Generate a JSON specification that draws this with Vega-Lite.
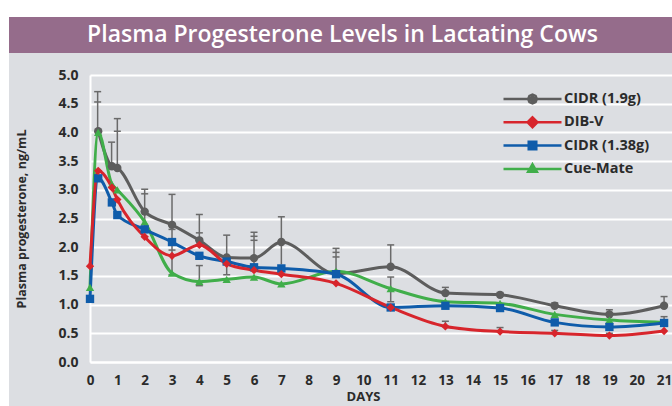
{
  "$schema": "https://vega.github.io/schema/vega-lite/v6.json",
  "background": "white",
  "padding": {"left": 9, "top": 17, "right": 0, "bottom": 0},
  "spacing": 0,
  "config": {"view": {"stroke": null}, "font": "Open Sans", "concat": {"spacing": 0}},
  "datasets": {
    "series": [
      {"s": "CIDR (1.9g)", "d": 0.3, "v": 4.02}, {"s": "CIDR (1.9g)", "d": 0.8, "v": 3.41}, {"s": "CIDR (1.9g)", "d": 1, "v": 3.38},
      {"s": "CIDR (1.9g)", "d": 2, "v": 2.62}, {"s": "CIDR (1.9g)", "d": 3, "v": 2.39}, {"s": "CIDR (1.9g)", "d": 4, "v": 2.12},
      {"s": "CIDR (1.9g)", "d": 5, "v": 1.82}, {"s": "CIDR (1.9g)", "d": 6, "v": 1.81}, {"s": "CIDR (1.9g)", "d": 7, "v": 2.09},
      {"s": "CIDR (1.9g)", "d": 9, "v": 1.54}, {"s": "CIDR (1.9g)", "d": 11, "v": 1.66}, {"s": "CIDR (1.9g)", "d": 13, "v": 1.2},
      {"s": "CIDR (1.9g)", "d": 15, "v": 1.17}, {"s": "CIDR (1.9g)", "d": 17, "v": 0.98}, {"s": "CIDR (1.9g)", "d": 19, "v": 0.83},
      {"s": "CIDR (1.9g)", "d": 21, "v": 0.98},
      {"s": "Cue-Mate", "d": 0, "v": 1.3}, {"s": "Cue-Mate", "d": 0.3, "v": 4.0}, {"s": "Cue-Mate", "d": 0.8, "v": 3.1},
      {"s": "Cue-Mate", "d": 1, "v": 3.0}, {"s": "Cue-Mate", "d": 2, "v": 2.44}, {"s": "Cue-Mate", "d": 3, "v": 1.55},
      {"s": "Cue-Mate", "d": 4, "v": 1.4}, {"s": "Cue-Mate", "d": 5, "v": 1.44}, {"s": "Cue-Mate", "d": 6, "v": 1.48},
      {"s": "Cue-Mate", "d": 7, "v": 1.36}, {"s": "Cue-Mate", "d": 9, "v": 1.58}, {"s": "Cue-Mate", "d": 11, "v": 1.28},
      {"s": "Cue-Mate", "d": 13, "v": 1.05}, {"s": "Cue-Mate", "d": 15, "v": 1.02}, {"s": "Cue-Mate", "d": 17, "v": 0.83},
      {"s": "Cue-Mate", "d": 19, "v": 0.73}, {"s": "Cue-Mate", "d": 21, "v": 0.69},
      {"s": "CIDR (1.38g)", "d": 0, "v": 1.1}, {"s": "CIDR (1.38g)", "d": 0.3, "v": 3.2}, {"s": "CIDR (1.38g)", "d": 0.8, "v": 2.78},
      {"s": "CIDR (1.38g)", "d": 1, "v": 2.56}, {"s": "CIDR (1.38g)", "d": 2, "v": 2.31}, {"s": "CIDR (1.38g)", "d": 3, "v": 2.09},
      {"s": "CIDR (1.38g)", "d": 4, "v": 1.85}, {"s": "CIDR (1.38g)", "d": 5, "v": 1.75}, {"s": "CIDR (1.38g)", "d": 6, "v": 1.65},
      {"s": "CIDR (1.38g)", "d": 7, "v": 1.63}, {"s": "CIDR (1.38g)", "d": 9, "v": 1.53}, {"s": "CIDR (1.38g)", "d": 11, "v": 0.95},
      {"s": "CIDR (1.38g)", "d": 13, "v": 0.98}, {"s": "CIDR (1.38g)", "d": 15, "v": 0.94}, {"s": "CIDR (1.38g)", "d": 17, "v": 0.69},
      {"s": "CIDR (1.38g)", "d": 19, "v": 0.61}, {"s": "CIDR (1.38g)", "d": 21, "v": 0.68},
      {"s": "DIB-V", "d": 0, "v": 1.67}, {"s": "DIB-V", "d": 0.3, "v": 3.33}, {"s": "DIB-V", "d": 0.8, "v": 3.04},
      {"s": "DIB-V", "d": 1, "v": 2.83}, {"s": "DIB-V", "d": 2, "v": 2.18}, {"s": "DIB-V", "d": 3, "v": 1.85},
      {"s": "DIB-V", "d": 4, "v": 2.04}, {"s": "DIB-V", "d": 5, "v": 1.71}, {"s": "DIB-V", "d": 6, "v": 1.6},
      {"s": "DIB-V", "d": 7, "v": 1.53}, {"s": "DIB-V", "d": 9, "v": 1.37}, {"s": "DIB-V", "d": 11, "v": 0.95},
      {"s": "DIB-V", "d": 13, "v": 0.62}, {"s": "DIB-V", "d": 15, "v": 0.53}, {"s": "DIB-V", "d": 17, "v": 0.5},
      {"s": "DIB-V", "d": 19, "v": 0.46}, {"s": "DIB-V", "d": 21, "v": 0.54}
    ],
    "err": [
      {"d": 0.28, "lo": 4.0, "hi": 4.71}, {"d": 0.79, "lo": 3.4, "hi": 3.83}, {"d": 1, "lo": 3.38, "hi": 4.24},
      {"d": 2, "lo": 2.25, "hi": 3.01}, {"d": 3, "lo": 1.52, "hi": 2.92}, {"d": 4, "lo": 2.0, "hi": 2.57},
      {"d": 4, "lo": 1.33, "hi": 1.68}, {"d": 5, "lo": 1.52, "hi": 2.21}, {"d": 6, "lo": 1.66, "hi": 2.26},
      {"d": 7, "lo": 1.7, "hi": 2.53}, {"d": 9, "lo": 1.55, "hi": 1.98}, {"d": 11, "lo": 1.66, "hi": 2.04},
      {"d": 11, "lo": 1.05, "hi": 1.48}, {"d": 13, "lo": 1.2, "hi": 1.3}, {"d": 13, "lo": 0.62, "hi": 0.71},
      {"d": 15, "lo": 1.17, "hi": 1.21}, {"d": 15, "lo": 0.53, "hi": 0.6}, {"d": 17, "lo": 0.96, "hi": 1.03},
      {"d": 17, "lo": 0.5, "hi": 0.55}, {"d": 19, "lo": 0.82, "hi": 0.91}, {"d": 19, "lo": 0.46, "hi": 0.5},
      {"d": 21, "lo": 0.96, "hi": 1.14}, {"d": 21, "lo": 0.67, "hi": 0.79}
    ],
    "caps": [
      {"d": 0.28, "v": 4.71}, {"d": 0.28, "v": 4.53}, {"d": 0.79, "v": 3.83}, {"d": 1, "v": 4.24}, {"d": 1, "v": 4.02},
      {"d": 2, "v": 3.01}, {"d": 2, "v": 2.93}, {"d": 3, "v": 2.92}, {"d": 3, "v": 2.31}, {"d": 3, "v": 1.95}, {"d": 3, "v": 1.52},
      {"d": 4, "v": 2.57}, {"d": 4, "v": 2.25}, {"d": 4, "v": 1.68}, {"d": 4, "v": 1.33}, {"d": 5, "v": 2.21}, {"d": 5, "v": 1.52},
      {"d": 6, "v": 2.26}, {"d": 6, "v": 2.19}, {"d": 6, "v": 2.12}, {"d": 6, "v": 1.66}, {"d": 7, "v": 2.53},
      {"d": 9, "v": 1.98}, {"d": 9, "v": 1.91}, {"d": 9, "v": 1.83}, {"d": 11, "v": 2.04}, {"d": 11, "v": 1.48}, {"d": 11, "v": 1.05},
      {"d": 13, "v": 1.3}, {"d": 13, "v": 0.71}, {"d": 15, "v": 1.21}, {"d": 15, "v": 0.6}, {"d": 17, "v": 1.03}, {"d": 17, "v": 0.55},
      {"d": 19, "v": 0.91}, {"d": 19, "v": 0.5}, {"d": 21, "v": 1.14}, {"d": 21, "v": 0.79}
    ]
  },
  "vconcat": [
    {
      "width": 663,
      "height": 36,
      "view": {"fill": "#956c8b", "stroke": null},
      "data": {"values": [{"t": "Plasma Progesterone Levels in Lactating Cows"}]},
      "mark": {"type": "text", "color": "white", "fontSize": 23, "fontWeight": 600, "font": "Open Sans", "baseline": "middle", "align": "center", "dx": 2},
      "encoding": {"text": {"field": "t", "type": "nominal"}}
    },
    {
      "width": 663,
      "height": 353,
      "view": {"fill": "#dcdee2", "stroke": null},
      "resolve": {"scale": {"shape": "independent"}, "legend": {"shape": "independent"}},
      "encoding": {
        "x": {"field": "d", "type": "quantitative",
          "scale": {"domain": [0, 21.29], "range": [81, 663], "nice": false, "zero": false},
          "axis": {"orient": "bottom", "offset": -44, "values": [0,1,2,3,4,5,6,7,8,9,10,11,12,13,14,15,16,17,18,19,20,21], "format": "d",
            "domainColor": "white", "domainWidth": 2, "ticks": false, "tickSize": 0, "labelPadding": 11,
            "labelFont": "Open Sans", "labelFontSize": 13.5, "labelFontWeight": "bold", "labelColor": "#2b2b2b",
            "labelFlush": false, "labelOverlap": false, "grid": false,
            "title": "DAYS", "titleFont": "Open Sans", "titleFontSize": 13, "titleFontWeight": "bold", "titleColor": "#2b2b2b",
            "titlePadding": 4, "titleX": 354}},
        "y": {"field": "v", "type": "quantitative",
          "scale": {"domain": [0, 5], "range": [309, 22], "nice": false, "zero": true},
          "axis": {"orient": "left", "offset": -81, "values": [0,0.5,1,1.5,2,2.5,3,3.5,4,4.5,5], "format": ".1f",
            "domainColor": "white", "domainWidth": 2, "ticks": false, "tickSize": 0, "labelPadding": 12,
            "labelFont": "Open Sans", "labelFontSize": 14, "labelFontWeight": "bold", "labelColor": "#2b2b2b",
            "labelFlush": false, "labelOverlap": false, "grid": true, "gridColor": "white", "gridWidth": 2,
            "title": "Plasma progesterone, ng/mL", "titleFont": "Open Sans", "titleFontSize": 12.5, "titleFontWeight": "bold", "titleColor": "#2b2b2b",
            "titlePadding": 29}}
      },
      "layer": [
        {
          "data": {"name": "err"},
          "mark": {"type": "rule", "color": "#6a6a6a", "strokeWidth": 1.5},
          "encoding": {"x": {"field": "d", "type": "quantitative"}, "y": {"field": "lo", "type": "quantitative"}, "y2": {"field": "hi"}}
        },
        {
          "data": {"name": "caps"},
          "mark": {"type": "point", "shape": "stroke", "size": 49, "filled": false, "color": "#6a6a6a", "strokeWidth": 1.5, "opacity": 1},
          "encoding": {"x": {"field": "d", "type": "quantitative"}, "y": {"field": "v", "type": "quantitative"}}
        },
        {
          "mark": {"type": "rule", "color": "#56657f", "strokeWidth": 2, "strokeDash": [2, 3]},
          "encoding": {"x": {"datum": 7, "type": "quantitative"}, "y": {"datum": 0, "type": "quantitative"}, "y2": {"datum": 5.05}}
        },
        {
          "mark": {"type": "rule", "color": "#6b6b6b", "strokeWidth": 2},
          "encoding": {"x": {"datum": 0, "type": "quantitative"}, "x2": {"datum": 7}, "y": {"datum": 5, "type": "quantitative"}}
        },
        {
          "mark": {"type": "point", "shape": "M0,0L1,-0.4L1,0.4Z", "size": 784, "filled": true, "color": "#6b6b6b", "opacity": 1},
          "encoding": {"x": {"datum": 0, "type": "quantitative"}, "y": {"datum": 5, "type": "quantitative"}}
        },
        {
          "mark": {"type": "point", "shape": "M0,0L-1,-0.4L-1,0.4Z", "size": 784, "filled": true, "color": "#6b6b6b", "opacity": 1},
          "encoding": {"x": {"datum": 7, "type": "quantitative"}, "y": {"datum": 5, "type": "quantitative"}}
        },
        {
          "mark": {"type": "text", "text": "7 day treatment program", "align": "left", "baseline": "middle", "dx": 10, "dy": 13,
            "font": "Open Sans", "fontSize": 12, "fontWeight": "bold", "color": "#333333"},
          "encoding": {"x": {"datum": 0, "type": "quantitative"}, "y": {"datum": 5, "type": "quantitative"}}
        },
        {
          "data": {"name": "series"},
          "mark": {"type": "line", "interpolate": "monotone", "strokeWidth": 3},
          "encoding": {
            "color": {"field": "s", "type": "nominal",
              "scale": {"domain": ["CIDR (1.9g)", "DIB-V", "CIDR (1.38g)", "Cue-Mate"], "range": ["#5d5d5d", "#d7252c", "#0f5caa", "#40ae4a"]},
              "legend": null}
          }
        },
        {
          "data": {"name": "series"},
          "mark": {"type": "point", "filled": true, "size": 70, "opacity": 1},
          "encoding": {
            "color": {"field": "s", "type": "nominal", "legend": null},
            "shape": {"field": "s", "type": "nominal",
              "scale": {"domain": ["CIDR (1.9g)", "DIB-V", "CIDR (1.38g)", "Cue-Mate"], "range": ["circle", "diamond", "square", "triangle-up"]},
              "legend": null}
          }
        },
        {
          "data": {"values": []},
          "mark": {"type": "point", "filled": false, "size": 3364, "strokeWidth": 2.5, "opacity": 1},
          "encoding": {
            "stroke": {"field": "s", "type": "nominal",
              "scale": {"domain": ["CIDR (1.9g)", "DIB-V", "CIDR (1.38g)", "Cue-Mate"], "range": ["#5d5d5d", "#d7252c", "#0f5caa", "#40ae4a"]},
              "legend": null},
            "shape": {"field": "s", "type": "nominal",
              "scale": {"domain": ["CIDR (1.9g)", "DIB-V", "CIDR (1.38g)", "Cue-Mate"],
                "range": [
                  "M-1,0H1M0.15,0L0.106,0.106L0,0.15L-0.106,0.106L-0.15,0L-0.106,-0.106L0,-0.15L0.106,-0.106ZM0.08,0L0,0.08L-0.08,0L0,-0.08Z",
                  "M-1,0H1M0,-0.17L0.17,0L0,0.17L-0.17,0ZM0,-0.08L0.08,0L0,0.08L-0.08,0Z",
                  "M-1,0H1M-0.13,-0.13H0.13V0.13H-0.13ZM-0.06,-0.06H0.06V0.06H-0.06Z",
                  "M-1,0H1M0,-0.16L0.15,0.1H-0.15ZM0,-0.06L0.05,0.04H-0.05Z"
                ]},
              "legend": {"orient": "none", "legendX": 493, "legendY": 39, "title": null, "padding": 0,
                "symbolSize": 3364, "symbolStrokeWidth": 2.5, "symbolOffset": 0, "clipHeight": 14,
                "symbolStrokeColor": {"expr": "datum.value=='DIB-V' ? '#d7252c' : datum.value=='CIDR (1.38g)' ? '#0f5caa' : datum.value=='Cue-Mate' ? '#40ae4a' : '#5d5d5d'"},
                "labelFont": "Open Sans", "labelFontSize": 14.5, "labelFontWeight": "bold", "labelColor": "#2b2b2b",
                "labelOffset": 1, "rowPadding": 8.3}}
          }
        }
      ]
    }
  ]
}
